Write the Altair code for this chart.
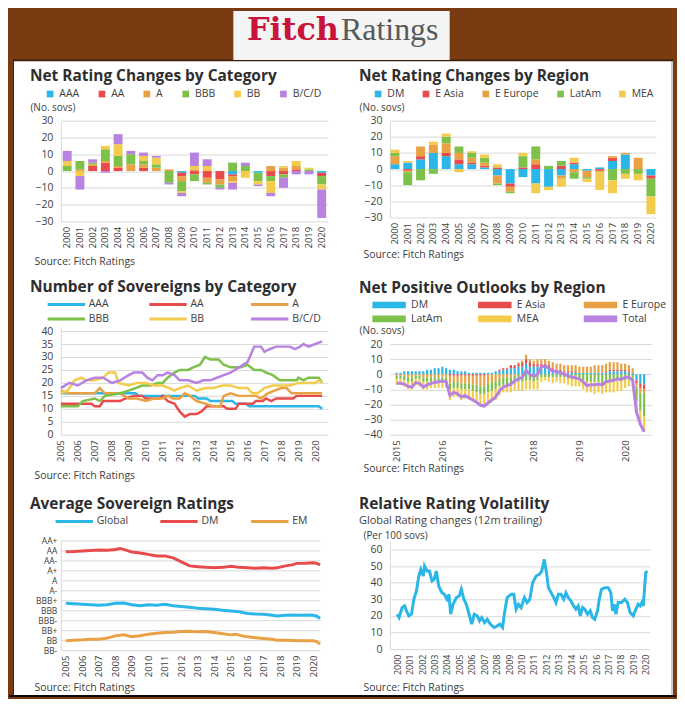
import altair as alt
import pandas as pd

FONT = "Open Sans"
BROWN = "#7a3b12"
CYAN = "#2bb6e8"
RED = "#e84b4b"
ORANGE = "#e9a145"
GREEN = "#7dc14b"
YELLOW = "#f3cc4d"
PURPLE = "#b882e0"
TXT = "#2e2e2e"
LAB = "#404040"
GRID = "#d9d9d9"

YEARS = [str(y) for y in range(2000, 2021)]
CATS = ["AAA", "AA", "A", "BBB", "BB", "B/C/D"]
cat_AAA = [0, 0, 0, 0, 0, 0, 0, 0, 0, -1, 0, 0, 0, -2, 0, -1, 0, 0, 0, 0, -1]
cat_AA = [0, 0, 3, 5, 2, 0, 2, 0, 0, -2, -2, -4, -5, -1, 0, 0, -3, -2, 1, 0, -2]
cat_A = [0, 1, 1, 1, 1, 4, 2, 2, 1, -3, 1, -3, -3, -3, 0, 0, 3, 2, 2, 0, 0]
cat_BBB = [3, 5, 1, 7, 6, 6, 2, 2, -7, -6, -4, -1, -2, 5, 3, -5, -3, -2, 0, 1, -5]
cat_BB = [3, -3, 0, 2, 7, 0, 3, 4, 0, -1, 2, 3, 0, -1, -4, -2, -7, 1, 3, 1, -3]
cat_BCD = [6, -8, 2, -1, 6, 2, 2, 1, -1, -2, 8, 4, -1, -4, 2, -1, -2, -6, -2, -2, -17]

REGIONS = ["DM", "E Asia", "E Europe", "LatAm", "MEA"]
reg_DM = [3, 4, 6, 10, 8, 3, 3, 1, -4, -9, -5, -9, -11, -4, 3, -1, 1, 5, 9, 0, -4]
reg_EAsia = [0, -1, 2, 0, 2, 3, 1, 1, 1, -2, 1, 3, 0, 2, 1, 0, -1, 2, 0, 0, -2]
reg_EEur = [5, -1, 6, 5, 6, 4, 3, 2, -5, -3, 0, 3, 0, -2, -2, -4, -1, 1, 1, 7, 0]
reg_LatAm = [2, -8, -7, -3, 4, 4, 3, 3, -1, -1, 7, 8, 2, 3, -4, -1, 0, -7, -3, -3, -11]
reg_MEA = [2, 1, 0, 2, 2, -2, 1, 2, 2, 0, 2, -6, -2, -5, 3, -2, -11, -8, -3, -4, -11]

n_AAA = [(2005.0, 16), (2007.0, 16), (2009.0, 16), (2009.4, 16), (2009.6, 15), (2011.0, 15), (2012.9, 15),
         (2013.1, 14), (2013.6, 14), (2013.8, 13), (2015.1, 13), (2015.3, 12), (2015.9, 12), (2016.1, 11),
         (2019.0, 11), (2020.2, 11), (2020.4, 10)]
n_AA = [(2005.0, 12), (2006.8, 12), (2007.0, 11), (2007.3, 11), (2007.5, 13), (2008.5, 13), (2008.8, 14),
        (2009.3, 15), (2009.8, 15), (2010.0, 14), (2010.8, 14), (2011.0, 15), (2011.3, 13), (2011.7, 12),
        (2012.0, 9), (2012.3, 7), (2012.6, 8), (2013.0, 8), (2013.3, 9), (2013.6, 11), (2014.6, 11),
        (2014.8, 10), (2015.3, 10), (2015.5, 12), (2016.3, 12), (2016.5, 13), (2016.9, 13), (2017.1, 14),
        (2017.4, 13), (2017.7, 14), (2018.7, 14), (2018.9, 15), (2020.4, 15)]
n_A = [(2005.0, 17), (2005.5, 16), (2007.0, 16), (2007.3, 18), (2007.6, 16), (2008.5, 16), (2009.0, 14),
       (2009.5, 14), (2010.0, 13), (2010.5, 14), (2011.0, 14), (2011.3, 15), (2011.6, 14), (2012.0, 14),
       (2012.3, 16), (2012.6, 15), (2013.0, 13), (2013.5, 12), (2014.0, 11), (2014.4, 11), (2014.6, 15),
       (2015.0, 16), (2015.5, 15), (2016.5, 15), (2016.8, 14), (2017.2, 16), (2017.6, 17), (2018.0, 18),
       (2018.3, 18), (2018.6, 16), (2020.4, 16)]
n_BBB = [(2005.0, 11), (2006.0, 11), (2006.3, 13), (2007.0, 14), (2007.3, 13), (2007.6, 15), (2008.5, 16),
         (2009.0, 17), (2009.4, 18), (2009.8, 19), (2010.3, 19), (2010.7, 20), (2011.0, 20), (2011.3, 22),
         (2011.7, 24), (2012.0, 25), (2012.5, 25), (2012.8, 26), (2013.2, 27), (2013.5, 30), (2013.8, 29),
         (2014.3, 29), (2014.6, 27), (2015.0, 26), (2015.6, 26), (2016.0, 27), (2016.4, 25), (2016.8, 25),
         (2017.1, 24), (2017.5, 23), (2017.9, 21), (2018.9, 21), (2019.0, 22), (2019.3, 21), (2019.6, 22),
         (2020.2, 22), (2020.4, 20)]
n_BB = [(2005.0, 16), (2005.4, 17), (2005.8, 21), (2006.2, 22), (2006.5, 21), (2007.0, 21), (2007.5, 22),
        (2007.8, 24), (2008.2, 24), (2008.4, 20), (2009.0, 19), (2009.5, 20), (2010.0, 20), (2010.5, 19),
        (2011.0, 19), (2011.4, 18), (2011.7, 17), (2012.0, 18), (2012.5, 19), (2013.0, 17), (2013.5, 18),
        (2014.0, 18), (2014.5, 19), (2015.0, 19), (2015.5, 18), (2016.0, 18), (2016.3, 16), (2016.6, 16),
        (2017.0, 18), (2017.5, 19), (2018.5, 19), (2019.0, 20), (2020.0, 20), (2020.2, 21), (2020.4, 20)]
n_BCD = [(2005.0, 18), (2005.5, 20), (2006.0, 19), (2006.5, 21), (2007.0, 22), (2007.5, 22), (2008.0, 20),
         (2008.5, 21), (2009.0, 23), (2009.3, 24), (2009.8, 24), (2010.1, 22), (2010.4, 21), (2010.7, 23),
         (2011.0, 23), (2011.3, 24), (2011.7, 23), (2012.0, 21), (2012.5, 21), (2013.0, 20), (2013.4, 21),
         (2013.8, 21), (2014.2, 22), (2014.6, 23), (2015.0, 24), (2015.5, 26), (2016.0, 28), (2016.2, 31),
         (2016.4, 34), (2016.8, 34), (2017.0, 32), (2017.3, 33), (2017.7, 34), (2018.5, 34), (2018.8, 33),
         (2019.1, 34), (2019.3, 35), (2019.6, 34), (2020.0, 35), (2020.4, 36)]

out_DM = [1, 1, 2, 2, 2, 2, 2, 2, 3, 3, 4, 4,
          5, 4, 3, 3, 2, 2, 2, 1, 1, 1, 1, 1,
          1, 1, 2, 2, 3, 3, 4, 4, 5, 5, 7, 5,
          5, 5, 5, 5, 4, 3, 2, 2, 1, 1, 1, 1,
          1, 1, 1, 1, 1, 1, 1, 1, 2, 2, 2, 2,
          2, 1, 1, -4, -6, -7]
out_EAsia = [0, 0, 0, 0, 0, 0, 0, 0, 0, 0, 0, 0,
             0, 0, -1, -1, -1, -1, -1, -1, -1, -1, -1, -1,
             0, 0, 0, 1, 1, 1, 2, 2, 2, 3, 3, 3,
             2, 2, 2, 2, 2, 1, 1, 1, 1, 1, 1, 1,
             0, 0, 0, 0, 0, 0, 0, 1, 1, 1, 1, 1,
             1, 1, 0, -2, -3, -3]
out_EEur = [-1, -1, -1, -2, -2, -1, -1, -2, -2, -2, -2, -2,
            -2, -2, -5, -4, -4, -5, -5, -5, -6, -6, -7, -7,
            -6, -5, -5, -3, -2, -2, -2, -1, 1, 1, 3, 2,
            2, 3, 3, 3, 3, 4, 4, 4, 4, 4, 4, 4,
            4, 4, 4, 4, 5, 5, 5, 5, 5, 5, 5, 4,
            4, 4, 3, -2, -3, -3]
out_LatAm = [-2, -2, -3, -3, -3, -2, -2, -3, -3, -3, -3, -3,
             -3, -3, -4, -4, -4, -4, -4, -4, -4, -5, -5, -5,
             -6, -6, -5, -5, -5, -5, -5, -5, -5, -5, -4, -4,
             -5, -4, -2, -2, -2, -2, -2, -2, -2, -3, -3, -3,
             -3, -4, -5, -5, -5, -5, -6, -5, -5, -5, -4, -4,
             -4, -3, -3, -10, -12, -15]
out_MEA = [-4, -4, -4, -5, -5, -4, -5, -5, -5, -4, -4, -4,
           -4, -4, -7, -6, -6, -7, -6, -7, -7, -7, -8, -9,
           -8, -7, -7, -6, -5, -5, -5, -5, -6, -6, -6, -6,
           -5, -6, -3, -2, -3, -4, -3, -4, -4, -4, -5, -5,
           -5, -6, -7, -7, -8, -7, -7, -7, -7, -7, -7, -7,
           -5, -5, -5, -7, -9, -10]
out_Total = [-6, -6, -6.5, -8, -8.5, -5.5, -6, -8.5, -7, -6, -5.5, -5,
             -4.5, -5, -14, -12, -13, -15, -14, -15.5, -17, -18.5, -20.5, -21,
             -19, -17, -15, -11, -8.5, -7.5, -6.5, -4.5, -3, -2, 2.5, 0,
             -1.5, 0, 5, 5.5, 4, 2, 2, 1, 0, -1, -2, -2.5,
             -3, -5, -7.5, -7, -7, -6.5, -7, -5, -4.5, -4, -3, -3.5,
             -2, -2, -4, -25, -33, -38]
MONTHS = [2015 + i / 12 for i in range(len(out_Total))]

RATING_LABELS = ["", "BB-", "BB", "BB+", "BBB-", "BBB", "BBB+", "A-", "A", "A+", "AA-", "AA", "AA+"]
avg_Global = [(2005.0, 5.7), (2005.5, 5.65), (2006.0, 5.6), (2006.5, 5.55), (2007.0, 5.5), (2007.5, 5.55),
              (2008.0, 5.7), (2008.5, 5.72), (2009.0, 5.55), (2009.5, 5.45), (2010.0, 5.55), (2010.5, 5.5),
              (2011.0, 5.6), (2011.5, 5.45), (2012.0, 5.37), (2012.5, 5.3), (2013.0, 5.2), (2013.5, 5.15),
              (2014.0, 5.1), (2014.5, 5.0), (2015.0, 4.93), (2015.5, 4.85), (2016.0, 4.67), (2016.5, 4.62),
              (2017.0, 4.6), (2017.5, 4.5), (2017.8, 4.43), (2018.3, 4.5), (2018.8, 4.53), (2019.2, 4.5),
              (2019.6, 4.52), (2020.0, 4.5), (2020.2, 4.4), (2020.4, 4.17)]
avg_DM = [(2005.0, 10.87), (2005.5, 10.9), (2006.0, 10.95), (2006.5, 11.0), (2007.0, 11.05), (2007.5, 11.02),
          (2008.0, 11.1), (2008.3, 11.2), (2008.6, 11.05), (2009.0, 10.85), (2009.5, 10.75), (2010.0, 10.6),
          (2010.5, 10.45), (2011.0, 10.45), (2011.5, 10.25), (2012.0, 9.85), (2012.5, 9.45), (2013.0, 9.37),
          (2013.5, 9.3), (2014.0, 9.27), (2014.5, 9.3), (2015.0, 9.4), (2015.5, 9.3), (2016.0, 9.27),
          (2016.5, 9.2), (2017.0, 9.25), (2017.5, 9.22), (2017.8, 9.25), (2018.3, 9.45), (2018.7, 9.55),
          (2019.0, 9.7), (2019.5, 9.72), (2020.0, 9.77), (2020.2, 9.7), (2020.4, 9.55)]
avg_EM = [(2005.0, 1.93), (2005.5, 1.98), (2006.0, 2.03), (2006.5, 2.1), (2007.0, 2.1), (2007.5, 2.2),
          (2008.0, 2.43), (2008.5, 2.53), (2009.0, 2.35), (2009.5, 2.45), (2010.0, 2.6), (2010.5, 2.7),
          (2011.0, 2.77), (2011.5, 2.8), (2012.0, 2.87), (2012.5, 2.88), (2013.0, 2.83), (2013.5, 2.87),
          (2014.0, 2.77), (2014.5, 2.65), (2015.0, 2.53), (2015.3, 2.6), (2015.6, 2.45), (2016.0, 2.33),
          (2016.5, 2.25), (2017.0, 2.17), (2017.5, 2.08), (2017.8, 2.0), (2018.3, 2.0), (2018.8, 1.97),
          (2019.2, 1.93), (2019.6, 1.95), (2020.0, 1.93), (2020.2, 1.85), (2020.4, 1.6)]

vol = [(2000.0, 21), (2000.15, 19), (2000.4, 25), (2000.6, 26), (2000.75, 23), (2000.94, 20), (2001.15, 21),
       (2001.34, 30), (2001.55, 35), (2001.74, 44), (2001.9, 48), (2002.1, 44), (2002.2, 50), (2002.4, 47),
       (2002.6, 47), (2002.8, 41), (2002.97, 42), (2003.15, 47), (2003.34, 38), (2003.6, 34), (2003.8, 33),
       (2004.0, 30), (2004.17, 33), (2004.3, 21), (2004.5, 27), (2004.76, 31), (2005.0, 32), (2005.16, 36),
       (2005.37, 30), (2005.56, 27), (2005.75, 22), (2006.0, 15), (2006.2, 21), (2006.44, 20), (2006.63, 17),
       (2006.8, 19), (2007.03, 16), (2007.25, 18), (2007.5, 15), (2007.8, 13), (2008.05, 14), (2008.26, 15),
       (2008.48, 13), (2008.64, 22), (2008.85, 31), (2009.17, 33), (2009.38, 33), (2009.57, 24), (2009.76, 27),
       (2009.97, 25), (2010.24, 31), (2010.45, 28), (2010.67, 30), (2010.9, 40), (2011.18, 44), (2011.44, 45),
       (2011.63, 47), (2011.84, 54), (2012.03, 45), (2012.17, 37), (2012.38, 34), (2012.6, 31), (2012.78, 28),
       (2012.97, 33), (2013.18, 33), (2013.4, 30), (2013.58, 34), (2013.77, 31), (2013.98, 29), (2014.2, 26),
       (2014.38, 24), (2014.57, 26), (2014.73, 20), (2014.92, 25), (2015.1, 24), (2015.32, 21), (2015.53, 23),
       (2015.72, 19), (2015.9, 18), (2016.12, 23), (2016.26, 30), (2016.44, 36), (2016.71, 37), (2016.98, 37),
       (2017.19, 34), (2017.33, 23), (2017.46, 27), (2017.6, 21), (2017.78, 28), (2018.05, 28), (2018.32, 30),
       (2018.53, 28), (2018.74, 22), (2019.0, 20), (2019.2, 24), (2019.39, 27), (2019.55, 26), (2019.68, 28),
       (2019.8, 26), (2020.0, 46), (2020.13, 47)]


def bars_df(xs, names, arrays):
    rows = []
    for k, (n, arr) in enumerate(zip(names, arrays)):
        for x, v in zip(xs, arr):
            rows.append({"x": x, "series": n, "v": v, "ord": k})
    return pd.DataFrame(rows)


def lines_df(names, series):
    rows = []
    for k, (n, pts) in enumerate(zip(names, series)):
        for t, v in pts:
            rows.append({"t": t, "series": n, "v": v, "ord": k})
    return pd.DataFrame(rows)


def y_axis(values, fs=10.5, title=None, tx=0, ty=0, domain=True, label_expr=None, pad=8):
    kw = dict(values=values, grid=True, gridColor=GRID, gridWidth=1, domain=domain, domainColor=GRID,
              ticks=False, labelFont=FONT, labelFontSize=fs, labelColor=LAB, labelPadding=pad,
              labelOverlap=False, labelFlush=False)
    if label_expr:
        kw["labelExpr"] = label_expr
    if title:
        kw.update(title=title, titleAngle=0, titleAlign="left", titleBaseline="middle", titleX=tx, titleY=ty,
                  titleFont=FONT, titleFontSize=10, titleFontWeight="normal", titleColor=LAB)
    else:
        kw["title"] = None
    return alt.Axis(**kw)


def x_axis(ty, values=None, fs=9.5, fmt=None, pad=5):
    kw = dict(labelAngle=270, labelAlign="right", labelBaseline="middle", labelFont=FONT, labelFontSize=fs,
              labelColor=LAB, labelPadding=pad, ticks=False, grid=False, domain=False, labelOverlap=False,
              labelFlush=False, title="Source: Fitch Ratings", titleX=-27, titleY=ty, titleAlign="left",
              titleBaseline="middle", titleFont=FONT, titleFontSize=10.5, titleFontWeight="normal",
              titleColor=LAB)
    if values is not None:
        kw["values"] = values
    if fmt:
        kw["format"] = fmt
    return alt.Axis(**kw)


def ptitle(text, dy, subtitle=None):
    kw = dict(text=text, anchor="start", frame="group", dx=-31, dy=dy, offset=4, font=FONT, fontSize=15.5,
              fontWeight="bold", color=TXT)
    if subtitle:
        kw.update(subtitle=subtitle, subtitleFont=FONT, subtitleFontSize=11, subtitleColor=LAB,
                  subtitlePadding=3)
    return alt.TitleParams(**kw)


def legend(x, y, cols, sym, size, pad, grid="none", sw=0, rowpad=2, off=4):
    kw = dict(orient="none", legendX=x, legendY=y, direction="horizontal", columns=cols, title=None,
              symbolType=sym, symbolSize=size, labelFont=FONT, labelFontSize=10.5, labelColor=LAB,
              labelOffset=off, columnPadding=pad, rowPadding=rowpad, padding=0, gridAlign=grid)
    if sw:
        kw["symbolStrokeWidth"] = sw
    return alt.Legend(**kw)


LINE_SYM = "M-5,0H5"
BAR_SYM = "M-5,-0.8H5V0.8H-5Z"

one = pd.DataFrame({"k": [0]})


def deco_rect(x, x2, y, y2, color):
    return alt.Chart(one).mark_rect(color=color).encode(
        x=alt.value(x), x2=alt.value(x2), y=alt.value(y), y2=alt.value(y2))


# frame and logo (first cell, drawn beneath every panel); header origin sits at page (60, 10)
header = alt.layer(
    deco_rect(-52, 617, -2, 686, BROWN),
    deco_rect(-48, 614, 46.5, 686, "#3b1f0a"),
    deco_rect(-47, 612, 48.5, 684, "#ffffff"),
    deco_rect(612, 614, 48.5, 684, "#cfcfcf"),
    deco_rect(-52, 617, 684, 686, "#0a0a0a"),
    deco_rect(173, 390, -2, 47, "#f4f4f4"),
    alt.Chart(one).mark_text(text="Fitch", font="DejaVu Serif", fontSize=32, fontWeight="bold",
                             color="#c8143a", align="right", baseline="alphabetic").encode(
        x=alt.value(279), y=alt.value(27)),
    alt.Chart(one).mark_text(text="Ratings", font="Liberation Serif", fontSize=32, color="#58595b",
                             align="left", baseline="alphabetic").encode(x=alt.value(281), y=alt.value(27)),
).properties(width=1, height=2)

spacer = alt.Chart(one).mark_point(opacity=0).encode(x=alt.value(0), y=alt.value(0)).properties(width=1, height=2)

df1 = bars_df(YEARS, CATS, [cat_AAA, cat_AA, cat_A, cat_BBB, cat_BB, cat_BCD])
p1 = alt.Chart(df1).mark_bar().encode(
    x=alt.X("x:O", sort=YEARS, scale=alt.Scale(paddingInner=0.3, paddingOuter=0.15), axis=x_axis(40)),
    y=alt.Y("v:Q", stack="zero", scale=alt.Scale(domain=[-30, 30], nice=False, zero=False),
            axis=y_axis(list(range(-30, 31, 10)), title="(No. sovs)", tx=-31, ty=-13)),
    color=alt.Color("series:N", scale=alt.Scale(domain=CATS, range=[CYAN, RED, ORANGE, GREEN, YELLOW, PURPLE]),
                    legend=legend(-16, -32, 6, "square", 45, 17)),
    order=alt.Order("ord:Q", sort="ascending"),
).properties(width=268, height=101, title=ptitle("Net Rating Changes by Category", 0))

df2 = bars_df(YEARS, REGIONS, [reg_DM, reg_EAsia, reg_EEur, reg_LatAm, reg_MEA])
p2 = alt.Chart(df2).mark_bar().encode(
    x=alt.X("x:O", sort=YEARS, scale=alt.Scale(paddingInner=0.3, paddingOuter=0.05), axis=x_axis(37)),
    y=alt.Y("v:Q", stack="zero", scale=alt.Scale(domain=[-30, 30], nice=False, zero=False),
            axis=y_axis(list(range(-30, 31, 10)), title="(No. sovs)", tx=-31, ty=-13)),
    color=alt.Color("series:N", scale=alt.Scale(domain=REGIONS, range=[CYAN, RED, ORANGE, GREEN, YELLOW]),
                    legend=legend(-17, -32, 5, "square", 45, 16)),
    order=alt.Order("ord:Q", sort="ascending"),
).properties(width=267, height=97, title=ptitle("Net Rating Changes by Region", 0))

df3 = lines_df(CATS, [n_AAA, n_AA, n_A, n_BBB, n_BB, n_BCD])
p3 = alt.Chart(df3).mark_line(strokeWidth=2.5).encode(
    x=alt.X("t:Q", scale=alt.Scale(domain=[2005, 2020.75], nice=False, zero=False),
            axis=x_axis(41, values=list(range(2005, 2021)), fmt="d")),
    y=alt.Y("v:Q", scale=alt.Scale(domain=[0, 41.54], nice=False),
            axis=y_axis(list(range(0, 41, 5)))),
    color=alt.Color("series:N", scale=alt.Scale(domain=CATS, range=[CYAN, RED, ORANGE, GREEN, YELLOW, PURPLE]),
                    legend=legend(0, -28.5, 3, LINE_SYM, 56.25, 25, grid="all", sw=3, rowpad=2, off=17)),
    order=alt.Order("ord:Q"),
).properties(width=268, height=108, title=ptitle("Number of Sovereigns by Category", 1))

REG4 = REGIONS + ["Total"]
sc4 = alt.Scale(domain=REG4, range=[CYAN, RED, ORANGE, GREEN, YELLOW, PURPLE])
leg4 = legend(-6, -27.5, 3, BAR_SYM, 41, 20, grid="all", rowpad=2, off=16.8)
df4 = bars_df(MONTHS, REGIONS, [out_DM, out_EAsia, out_EEur, out_LatAm, out_MEA])
df4t = pd.DataFrame({"x": MONTHS, "v": out_Total, "series": "Total"})
x4 = alt.X("x:Q", scale=alt.Scale(domain=[2014.96, 2020.46], nice=False, zero=False),
           axis=x_axis(34, values=list(range(2015, 2021)), fmt="d"))
y4axis = y_axis(list(range(-40, 21, 10)), title="(No. sovs)", tx=-31, ty=3, domain=False)
y4scale = alt.Scale(domain=[-40, 31.21], nice=False)
bars4 = alt.Chart(df4).mark_bar(size=2.2).encode(
    x=x4,
    y=alt.Y("v:Q", stack="zero", scale=y4scale, axis=y4axis),
    color=alt.Color("series:N", scale=sc4, legend=leg4),
    order=alt.Order("ord:Q", sort="ascending"),
)
line4 = alt.Chart(df4t).mark_line(strokeWidth=3).encode(
    x=x4,
    y=alt.Y("v:Q", scale=y4scale, axis=y4axis),
    color=alt.Color("series:N", scale=sc4, legend=leg4),
)
p4 = alt.layer(bars4, line4).properties(width=262, height=108,
                                        title=ptitle("Net Positive Outlooks by Region", 1))

AVG = ["Global", "DM", "EM"]
df5 = lines_df(AVG, [avg_Global, avg_DM, avg_EM])
lab_expr = "[" + ",".join("'" + s + "'" for s in RATING_LABELS) + "][datum.value]"
p5 = alt.Chart(df5).mark_line(strokeWidth=3).encode(
    x=alt.X("t:Q", scale=alt.Scale(domain=[2004.7, 2020.4], nice=False, zero=False),
            axis=x_axis(38, values=list(range(2005, 2021)), fmt="d")),
    y=alt.Y("v:Q", scale=alt.Scale(domain=[1, 12], nice=False, zero=False),
            axis=y_axis(list(range(1, 13)), fs=8.5, label_expr=lab_expr, pad=4)),
    color=alt.Color("series:N", scale=alt.Scale(domain=AVG, range=[CYAN, RED, ORANGE]),
                    legend=legend(8, -24.5, 3, LINE_SYM, 56.25, 25, sw=3, off=17)),
).properties(width=260, height=110, title=ptitle("Average Sovereign Ratings", 0))

df6 = pd.DataFrame({"t": [p[0] for p in vol], "v": [p[1] for p in vol]})
p6 = alt.Chart(df6).mark_line(strokeWidth=3, color=CYAN).encode(
    x=alt.X("t:Q", scale=alt.Scale(domain=[1999.41, 2020.35], nice=False, zero=False),
            axis=x_axis(39, values=list(range(2000, 2021)), fmt="d", fs=9)),
    y=alt.Y("v:Q", scale=alt.Scale(domain=[0, 65.4], nice=False),
            axis=y_axis(list(range(0, 61, 10)), title="(Per 100 sovs)", tx=-27, ty=-5)),
).properties(width=261, height=109,
             title=ptitle("Relative Rating Volatility", 0, subtitle="Global Rating changes (12m trailing)"))

chart = alt.concat(
    header, spacer, p1, p2, p3, p4, p5, p6,
    columns=2, spacing={"row": 106, "column": 62}, bounds="flush", align="each",
).resolve_scale(color="independent").resolve_legend(color="independent").properties(
    background=BROWN, padding=0,
).configure(font=FONT).configure_view(stroke="transparent")

chart.save("out.html", embed_options={"renderer": "svg", "actions": False})
